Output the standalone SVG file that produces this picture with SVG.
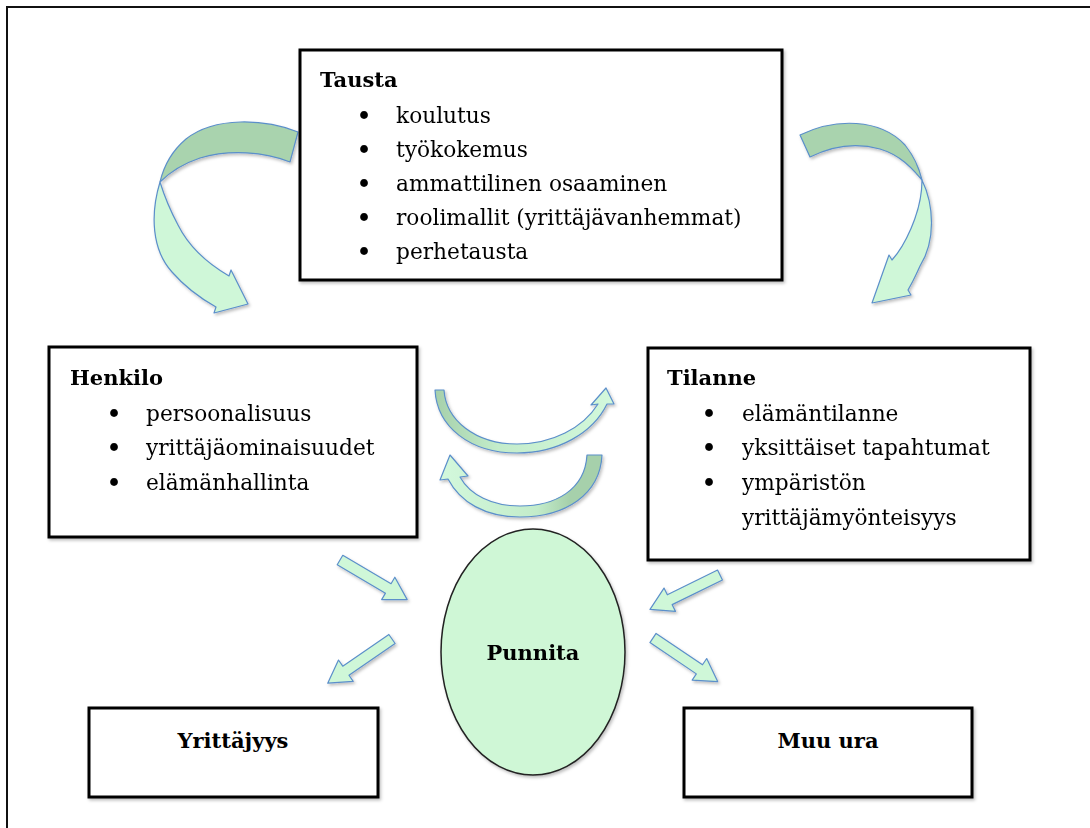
<svg xmlns="http://www.w3.org/2000/svg" xmlns:xlink="http://www.w3.org/1999/xlink" width="1090" height="828" viewBox="0 0 1090 828">
<style>
.frame{stroke:#111;stroke-width:2;fill:none}
.box{fill:#fff;stroke:#000;stroke-width:3}
.tt{font-family:"DejaVu Serif","Liberation Serif",serif;font-weight:bold;font-size:21px;fill:#000}
.it{font-family:"DejaVu Serif","Liberation Serif",serif;font-size:21.7px;fill:#000}
.bl{font-family:"DejaVu Serif","Liberation Serif",serif;font-size:22px;font-weight:bold;fill:#000;text-anchor:middle}
.arr{stroke:#5b8fca;stroke-width:1.2;stroke-linejoin:round}
.light{fill:#cff7d8}
.dark{fill:#a9d3ae}
</style>
<defs>
<filter id="sh" x="-20%" y="-20%" width="140%" height="140%">
<feDropShadow dx="1.5" dy="2" stdDeviation="1.5" flood-color="#000" flood-opacity="0.25"/>
</filter>
<linearGradient id="gUp" x1="435" y1="0" x2="614" y2="0" gradientUnits="userSpaceOnUse">
<stop offset="0" stop-color="#a6d0ab"/>
<stop offset="0.35" stop-color="#c3ecca"/>
<stop offset="1" stop-color="#d3f8dc"/>
</linearGradient>
<linearGradient id="gLo" x1="440" y1="0" x2="602" y2="0" gradientUnits="userSpaceOnUse">
<stop offset="0" stop-color="#d3f8dc"/>
<stop offset="0.6" stop-color="#c3ecca"/>
<stop offset="0.8" stop-color="#a6d0ab"/>
<stop offset="1" stop-color="#a6d0ab"/>
</linearGradient>
<polygon id="sa" points="0,-5.5 56,-5.5 56,-13 78,0 56,13 56,5.5 0,5.5"/>
</defs>

<g id="frame">
<line class="frame" x1="6" y1="7" x2="1090" y2="7"/>
<line class="frame" x1="7" y1="6" x2="7" y2="828"/>
</g>

<g id="connectors" filter="url(#sh)">
<g id="arrow-tausta-henkilo">
<path class="arr dark" d="M298,132 C265,119 215,116 186,139 C173,150 164,165 160,182 C170,172 185,163 200,158 C230,149 265,152 290,162 Z"/>
<path class="arr light" d="M160,182 C150,215 152,250 172,272 C185,287 200,298 216,307 L214,313 L248,304 L231,270 L229,276 C205,262 188,245 178,225 C170,210 164,195 160,182 Z"/>
</g>
<g id="arrow-tausta-tilanne">
<path class="arr dark" d="M800,135 C835,118 880,118 905,145 C913,155 919,167 922,180 C912,168 900,155 880,149 C855,142 830,147 810,157 Z"/>
<path class="arr light" d="M922,180 C934,205 936,240 920,266 C916,275 912,283 908,290 L911,295 L872,303 L889,255 L892,260 C903,248 922,214 922,180 Z"/>
</g>
<path id="arrow-henkilo-tilanne" class="arr" fill="url(#gUp)" d="M435,390 L444,390 C446,420 475,444 517,444 C552,444 583,428 598,404 L591,405 L606,388 L614,404 L607,404 C593,433 558,453 517,453 C470,453 437,427 435,390 Z"/>
<path id="arrow-tilanne-henkilo" class="arr" fill="url(#gLo)" d="M602,455 C600,495 565,517 520,517 C485,517 460,502 448,479 L440,480 L450,455 L468,476 L460,477 C470,495 492,506 520,506 C555,506 585,490 587,455 Z"/>
<use href="#sa" xlink:href="#sa" class="arr light" transform="translate(340,560) rotate(30.5)"/>
<use href="#sa" xlink:href="#sa" class="arr light" transform="translate(392,639) rotate(145.5)"/>
<use href="#sa" xlink:href="#sa" class="arr light" transform="translate(720,575) rotate(153.8)"/>
<use href="#sa" xlink:href="#sa" class="arr light" transform="translate(653,638) rotate(34)"/>
</g>

<g id="tausta">
<rect class="box" x="300" y="50" width="482" height="230" filter="url(#sh)"/>
<text class="tt" x="320" y="87">Tausta</text>
<text class="bl" x="364" y="123">•</text><text class="it" x="396" y="123">koulutus</text>
<text class="bl" x="364" y="157">•</text><text class="it" x="396" y="157">työkokemus</text>
<text class="bl" x="364" y="191">•</text><text class="it" x="396" y="191">ammattilinen osaaminen</text>
<text class="bl" x="364" y="225">•</text><text class="it" x="396" y="225">roolimallit (yrittäjävanhemmat)</text>
<text class="bl" x="364" y="259">•</text><text class="it" x="396" y="259">perhetausta</text>
</g>

<g id="henkilo">
<rect class="box" x="49" y="347" width="368" height="190" filter="url(#sh)"/>
<text class="tt" x="70" y="385">Henkilo</text>
<text class="bl" x="114" y="421">•</text><text class="it" x="146" y="421">persoonalisuus</text>
<text class="bl" x="114" y="455">•</text><text class="it" x="146" y="455">yrittäjäominaisuudet</text>
<text class="bl" x="114" y="490">•</text><text class="it" x="146" y="490">elämänhallinta</text>
</g>

<g id="tilanne">
<rect class="box" x="648" y="348" width="382" height="212" filter="url(#sh)"/>
<text class="tt" x="667" y="385">Tilanne</text>
<text class="bl" x="709" y="421">•</text><text class="it" x="742" y="421">elämäntilanne</text>
<text class="bl" x="709" y="455">•</text><text class="it" x="742" y="455">yksittäiset tapahtumat</text>
<text class="bl" x="709" y="490">•</text><text class="it" x="742" y="490">ympäristön</text>
<text class="it" x="742" y="525">yrittäjämyönteisyys</text>
</g>

<g id="punnita">
<ellipse cx="533" cy="652" rx="92" ry="123" fill="#cff7d6" stroke="#222" stroke-width="1.5" filter="url(#sh)"/>
<text class="tt" x="533" y="660" text-anchor="middle">Punnita</text>
</g>

<g id="yrittajyys">
<rect class="box" x="89" y="708" width="289" height="89" filter="url(#sh)"/>
<text class="tt" x="233" y="748" text-anchor="middle">Yrittäjyys</text>
</g>

<g id="muu-ura">
<rect class="box" x="684" y="708" width="288" height="89" filter="url(#sh)"/>
<text class="tt" x="828" y="748" text-anchor="middle">Muu ura</text>
</g>
</svg>
